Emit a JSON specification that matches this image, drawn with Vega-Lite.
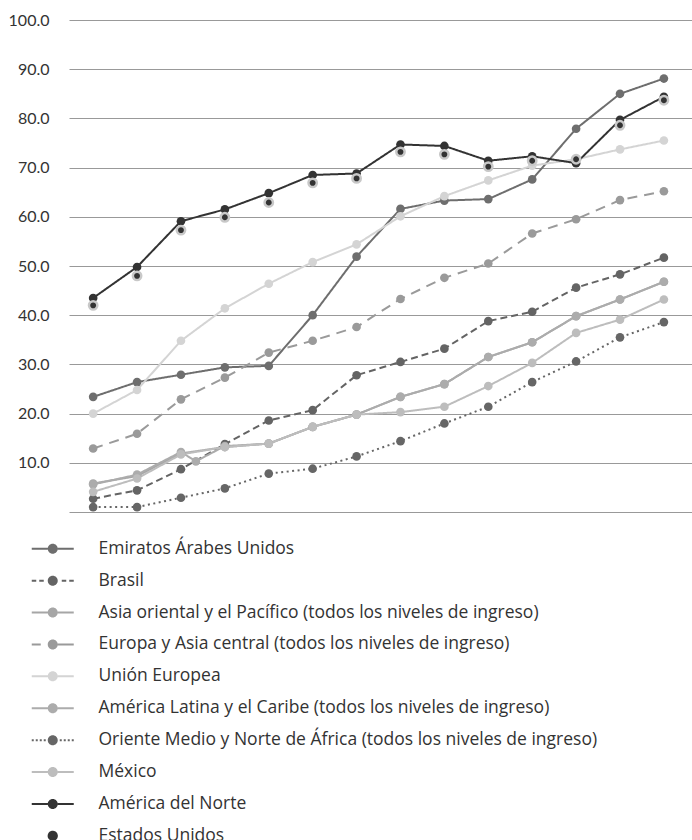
{
  "$schema": "https://vega.github.io/schema/vega-lite/v6.json",
  "width": 623,
  "height": 492,
  "autosize": {"type": "none"},
  "padding": {"left": 69, "top": 20, "right": 0, "bottom": 328},
  "background": "#ffffff",
  "config": {"view": {"stroke": null}, "font": "Lato"},
  "data": {"values": [
    {"s":"Emiratos Árabes Unidos","year":2000,"v":23.4},{"s":"Emiratos Árabes Unidos","year":2001,"v":26.4},{"s":"Emiratos Árabes Unidos","year":2002,"v":27.9},{"s":"Emiratos Árabes Unidos","year":2003,"v":29.4},{"s":"Emiratos Árabes Unidos","year":2004,"v":29.7},{"s":"Emiratos Árabes Unidos","year":2005,"v":40.0},{"s":"Emiratos Árabes Unidos","year":2006,"v":51.9},{"s":"Emiratos Árabes Unidos","year":2007,"v":61.6},{"s":"Emiratos Árabes Unidos","year":2008,"v":63.3},{"s":"Emiratos Árabes Unidos","year":2009,"v":63.6},{"s":"Emiratos Árabes Unidos","year":2010,"v":67.6},{"s":"Emiratos Árabes Unidos","year":2011,"v":77.9},{"s":"Emiratos Árabes Unidos","year":2012,"v":85.0},{"s":"Emiratos Árabes Unidos","year":2013,"v":88.1},
    {"s":"Brasil","year":2000,"v":2.7},{"s":"Brasil","year":2001,"v":4.4},{"s":"Brasil","year":2002,"v":8.7},{"s":"Brasil","year":2003,"v":13.8},{"s":"Brasil","year":2004,"v":18.6},{"s":"Brasil","year":2005,"v":20.7},{"s":"Brasil","year":2006,"v":27.8},{"s":"Brasil","year":2007,"v":30.5},{"s":"Brasil","year":2008,"v":33.2},{"s":"Brasil","year":2009,"v":38.8},{"s":"Brasil","year":2010,"v":40.7},{"s":"Brasil","year":2011,"v":45.6},{"s":"Brasil","year":2012,"v":48.3},{"s":"Brasil","year":2013,"v":51.7},
    {"s":"Asia oriental y el Pacífico (todos los niveles de ingreso)","year":2000,"v":5.8},{"s":"Asia oriental y el Pacífico (todos los niveles de ingreso)","year":2001,"v":7.3},{"s":"Asia oriental y el Pacífico (todos los niveles de ingreso)","year":2002,"v":11.9},{"s":"Asia oriental y el Pacífico (todos los niveles de ingreso)","year":2003,"v":13.2},{"s":"Asia oriental y el Pacífico (todos los niveles de ingreso)","year":2004,"v":13.9},{"s":"Asia oriental y el Pacífico (todos los niveles de ingreso)","year":2005,"v":17.3},{"s":"Asia oriental y el Pacífico (todos los niveles de ingreso)","year":2006,"v":19.8},{"s":"Asia oriental y el Pacífico (todos los niveles de ingreso)","year":2007,"v":23.4},{"s":"Asia oriental y el Pacífico (todos los niveles de ingreso)","year":2008,"v":26.0},{"s":"Asia oriental y el Pacífico (todos los niveles de ingreso)","year":2009,"v":31.5},{"s":"Asia oriental y el Pacífico (todos los niveles de ingreso)","year":2010,"v":34.5},{"s":"Asia oriental y el Pacífico (todos los niveles de ingreso)","year":2011,"v":39.8},{"s":"Asia oriental y el Pacífico (todos los niveles de ingreso)","year":2012,"v":43.2},{"s":"Asia oriental y el Pacífico (todos los niveles de ingreso)","year":2013,"v":46.8},
    {"s":"Europa y Asia central (todos los niveles de ingreso)","year":2000,"v":12.9},{"s":"Europa y Asia central (todos los niveles de ingreso)","year":2001,"v":15.9},{"s":"Europa y Asia central (todos los niveles de ingreso)","year":2002,"v":22.9},{"s":"Europa y Asia central (todos los niveles de ingreso)","year":2003,"v":27.3},{"s":"Europa y Asia central (todos los niveles de ingreso)","year":2004,"v":32.4},{"s":"Europa y Asia central (todos los niveles de ingreso)","year":2005,"v":34.8},{"s":"Europa y Asia central (todos los niveles de ingreso)","year":2006,"v":37.6},{"s":"Europa y Asia central (todos los niveles de ingreso)","year":2007,"v":43.3},{"s":"Europa y Asia central (todos los niveles de ingreso)","year":2008,"v":47.6},{"s":"Europa y Asia central (todos los niveles de ingreso)","year":2009,"v":50.5},{"s":"Europa y Asia central (todos los niveles de ingreso)","year":2010,"v":56.6},{"s":"Europa y Asia central (todos los niveles de ingreso)","year":2011,"v":59.5},{"s":"Europa y Asia central (todos los niveles de ingreso)","year":2012,"v":63.4},{"s":"Europa y Asia central (todos los niveles de ingreso)","year":2013,"v":65.2},
    {"s":"Unión Europea","year":2000,"v":20.0},{"s":"Unión Europea","year":2001,"v":24.8},{"s":"Unión Europea","year":2002,"v":34.8},{"s":"Unión Europea","year":2003,"v":41.4},{"s":"Unión Europea","year":2004,"v":46.4},{"s":"Unión Europea","year":2005,"v":50.8},{"s":"Unión Europea","year":2006,"v":54.4},{"s":"Unión Europea","year":2007,"v":60.1},{"s":"Unión Europea","year":2008,"v":64.2},{"s":"Unión Europea","year":2009,"v":67.4},{"s":"Unión Europea","year":2010,"v":70.4},{"s":"Unión Europea","year":2011,"v":71.7},{"s":"Unión Europea","year":2012,"v":73.7},{"s":"Unión Europea","year":2013,"v":75.5},
    {"s":"América Latina y el Caribe (todos los niveles de ingreso)","year":2000,"v":5.6},{"s":"América Latina y el Caribe (todos los niveles de ingreso)","year":2001,"v":7.6},{"s":"América Latina y el Caribe (todos los niveles de ingreso)","year":2002,"v":12.2},{"s":"América Latina y el Caribe (todos los niveles de ingreso)","year":2002.34,"v":10.3},{"s":"América Latina y el Caribe (todos los niveles de ingreso)","year":2003,"v":13.4},{"s":"América Latina y el Caribe (todos los niveles de ingreso)","year":2004,"v":13.9},{"s":"América Latina y el Caribe (todos los niveles de ingreso)","year":2005,"v":17.3},{"s":"América Latina y el Caribe (todos los niveles de ingreso)","year":2006,"v":19.8},{"s":"América Latina y el Caribe (todos los niveles de ingreso)","year":2007,"v":23.4},{"s":"América Latina y el Caribe (todos los niveles de ingreso)","year":2008,"v":26.0},{"s":"América Latina y el Caribe (todos los niveles de ingreso)","year":2009,"v":31.5},{"s":"América Latina y el Caribe (todos los niveles de ingreso)","year":2010,"v":34.5},{"s":"América Latina y el Caribe (todos los niveles de ingreso)","year":2011,"v":39.8},{"s":"América Latina y el Caribe (todos los niveles de ingreso)","year":2012,"v":43.2},{"s":"América Latina y el Caribe (todos los niveles de ingreso)","year":2013,"v":46.8},
    {"s":"Oriente Medio y Norte de África (todos los niveles de ingreso)","year":2000,"v":1.0},{"s":"Oriente Medio y Norte de África (todos los niveles de ingreso)","year":2001,"v":1.0},{"s":"Oriente Medio y Norte de África (todos los niveles de ingreso)","year":2002,"v":2.9},{"s":"Oriente Medio y Norte de África (todos los niveles de ingreso)","year":2003,"v":4.8},{"s":"Oriente Medio y Norte de África (todos los niveles de ingreso)","year":2004,"v":7.8},{"s":"Oriente Medio y Norte de África (todos los niveles de ingreso)","year":2005,"v":8.8},{"s":"Oriente Medio y Norte de África (todos los niveles de ingreso)","year":2006,"v":11.3},{"s":"Oriente Medio y Norte de África (todos los niveles de ingreso)","year":2007,"v":14.4},{"s":"Oriente Medio y Norte de África (todos los niveles de ingreso)","year":2008,"v":18.0},{"s":"Oriente Medio y Norte de África (todos los niveles de ingreso)","year":2009,"v":21.4},{"s":"Oriente Medio y Norte de África (todos los niveles de ingreso)","year":2010,"v":26.4},{"s":"Oriente Medio y Norte de África (todos los niveles de ingreso)","year":2011,"v":30.6},{"s":"Oriente Medio y Norte de África (todos los niveles de ingreso)","year":2012,"v":35.5},{"s":"Oriente Medio y Norte de África (todos los niveles de ingreso)","year":2013,"v":38.6},
    {"s":"México","year":2000,"v":4.1},{"s":"México","year":2001,"v":6.8},{"s":"México","year":2002,"v":11.7},{"s":"México","year":2003,"v":13.2},{"s":"México","year":2004,"v":13.9},{"s":"México","year":2005,"v":17.3},{"s":"México","year":2006,"v":19.8},{"s":"México","year":2007,"v":20.3},{"s":"México","year":2008,"v":21.4},{"s":"México","year":2009,"v":25.6},{"s":"México","year":2010,"v":30.3},{"s":"México","year":2011,"v":36.4},{"s":"México","year":2012,"v":39.1},{"s":"México","year":2013,"v":43.2},
    {"s":"América del Norte","year":2000,"v":43.5},{"s":"América del Norte","year":2001,"v":49.8},{"s":"América del Norte","year":2002,"v":59.1},{"s":"América del Norte","year":2003,"v":61.5},{"s":"América del Norte","year":2004,"v":64.8},{"s":"América del Norte","year":2005,"v":68.5},{"s":"América del Norte","year":2006,"v":68.8},{"s":"América del Norte","year":2007,"v":74.7},{"s":"América del Norte","year":2008,"v":74.4},{"s":"América del Norte","year":2009,"v":71.4},{"s":"América del Norte","year":2010,"v":72.3},{"s":"América del Norte","year":2011,"v":70.9},{"s":"América del Norte","year":2012,"v":79.7},{"s":"América del Norte","year":2013,"v":84.4},
    {"s":"Estados Unidos","year":2000,"v":42.0},{"s":"Estados Unidos","year":2001,"v":48.0},{"s":"Estados Unidos","year":2002,"v":57.3},{"s":"Estados Unidos","year":2003,"v":59.9},{"s":"Estados Unidos","year":2004,"v":62.9},{"s":"Estados Unidos","year":2005,"v":66.9},{"s":"Estados Unidos","year":2006,"v":67.8},{"s":"Estados Unidos","year":2007,"v":73.2},{"s":"Estados Unidos","year":2008,"v":72.7},{"s":"Estados Unidos","year":2009,"v":70.2},{"s":"Estados Unidos","year":2010,"v":71.4},{"s":"Estados Unidos","year":2011,"v":71.7},{"s":"Estados Unidos","year":2012,"v":78.6},{"s":"Estados Unidos","year":2013,"v":83.7}
  ]},
  "encoding": {
    "x": {"field": "year", "type": "quantitative", "scale": {"domain": [1999.45, 2013.64], "nice": false, "zero": false}, "axis": null},
    "y": {"field": "v", "type": "quantitative", "scale": {"domain": [0, 100], "nice": false},
      "axis": {"title": null, "values": [0,10,20,30,40,50,60,70,80,90,100], "grid": true, "gridColor": "#999999", "gridWidth": 1, "domain": false, "ticks": false, "tickSize": 0, "labelPadding": 20, "labelFont": "Lato", "labelFontSize": 16, "labelColor": "#333333", "labelExpr": "datum.value == 0 ? '' : format(datum.value, '.1f')"}}
  },
  "layer": [
    {
      "transform": [{"filter": "datum.s != 'Estados Unidos'"}],
      "mark": {"type": "line", "strokeWidth": 2},
      "encoding": {
        "color": {"field": "s", "type": "nominal",
          "scale": {"domain": ["Emiratos Árabes Unidos","Brasil","Asia oriental y el Pacífico (todos los niveles de ingreso)","Europa y Asia central (todos los niveles de ingreso)","Unión Europea","América Latina y el Caribe (todos los niveles de ingreso)","Oriente Medio y Norte de África (todos los niveles de ingreso)","México","América del Norte","Estados Unidos"],
            "range": ["#6e6e6e","#646464","#a6a6a6","#9a9a9a","#d4d4d4","#acacac","#666666","#bdbdbd","#333333","#333333"]},
          "legend": {"title": null, "orient": "none", "legendX": -25, "legendY": 520, "direction": "vertical", "padding": 0,
            "labelFont": "Open Sans", "labelFontSize": 17.5, "labelColor": "#333333", "labelLimit": 640, "labelOffset": 37,
            "symbolSize": 100, "symbolStrokeWidth": 2, "symbolOffset": 0, "rowPadding": 12.9,
            "encode": {"symbols": {"update": {
              "shape": {"signal": "datum.value === 'Estados Unidos' ? 'circle' : datum.value === 'Brasil' ? 'M-4.2,-0.2H-3.3V0.2H-4.2ZM-2.7,-0.2H-1.8V0.2H-2.7ZM1.8,-0.2H2.7V0.2H1.8ZM3.3,-0.2H4.2V0.2H3.3ZM1,0A1,1,0,1,1,-1,0A1,1,0,1,1,1,0Z' : datum.value === 'Europa y Asia central (todos los niveles de ingreso)' ? 'M-4.2,-0.2H-2.4V0.2H-4.2ZM1,-0.2H4.2V0.2H1ZM1,0A1,1,0,1,1,-1,0A1,1,0,1,1,1,0Z' : datum.value === 'Oriente Medio y Norte de África (todos los niveles de ingreso)' ? 'M-4.2,-0.2H-3.8V0.2H-4.2ZM-3.4,-0.2H-3.0V0.2H-3.4ZM-2.6,-0.2H-2.2V0.2H-2.6ZM-1.8,-0.2H-1.4V0.2H-1.8ZM1.4,-0.2H1.8V0.2H1.4ZM2.2,-0.2H2.6V0.2H2.2ZM3.0,-0.2H3.4V0.2H3.0ZM3.8,-0.2H4.2V0.2H3.8ZM1,0A1,1,0,1,1,-1,0A1,1,0,1,1,1,0Z' : 'M-4.2,-0.2H-1V0.2H-4.2ZM1,-0.2H4.2V0.2H1ZM1,0A1,1,0,1,1,-1,0A1,1,0,1,1,1,0Z'"},
              "fill": {"signal": "datum.value === 'Estados Unidos' ? '#333333' : scale('color', datum.value)"},
              "stroke": {"signal": "datum.value === 'Estados Unidos' ? '#c8c8c8' : 'transparent'"},
              "strokeDash": {"value": [1, 0]},
              "strokeWidth": {"signal": "datum.value === 'Estados Unidos' ? 2.5 : 0"},
              "size": {"signal": "datum.value === 'Estados Unidos' ? 60 : 100"},
              "opacity": {"value": 1},
              "fillOpacity": {"value": 1},
              "strokeOpacity": {"value": 1}
            }}}}
        },
        "strokeDash": {"field": "s", "type": "nominal",
          "scale": {"domain": ["Emiratos Árabes Unidos","Brasil","Asia oriental y el Pacífico (todos los niveles de ingreso)","Europa y Asia central (todos los niveles de ingreso)","Unión Europea","América Latina y el Caribe (todos los niveles de ingreso)","Oriente Medio y Norte de África (todos los niveles de ingreso)","México","América del Norte","Estados Unidos"],
            "range": [[1,0],[7,4],[1,0],[10,7],[1,0],[1,0],[2,3.5],[1,0],[1,0],[1,0]]},
          "legend": null}
      }
    },
    {
      "transform": [{"filter": "datum.s != 'Estados Unidos'"}],
      "mark": {"type": "point", "filled": true, "size": 75, "opacity": 1},
      "encoding": {
        "color": {"field": "s", "type": "nominal"}
      }
    },
    {
      "transform": [{"filter": "datum.s == 'Estados Unidos'"}],
      "mark": {"type": "point", "filled": true, "fill": "#333333", "stroke": "#c8c8c8", "strokeWidth": 2.5, "size": 70, "opacity": 1},
      "encoding": {}
    }
  ]
}
